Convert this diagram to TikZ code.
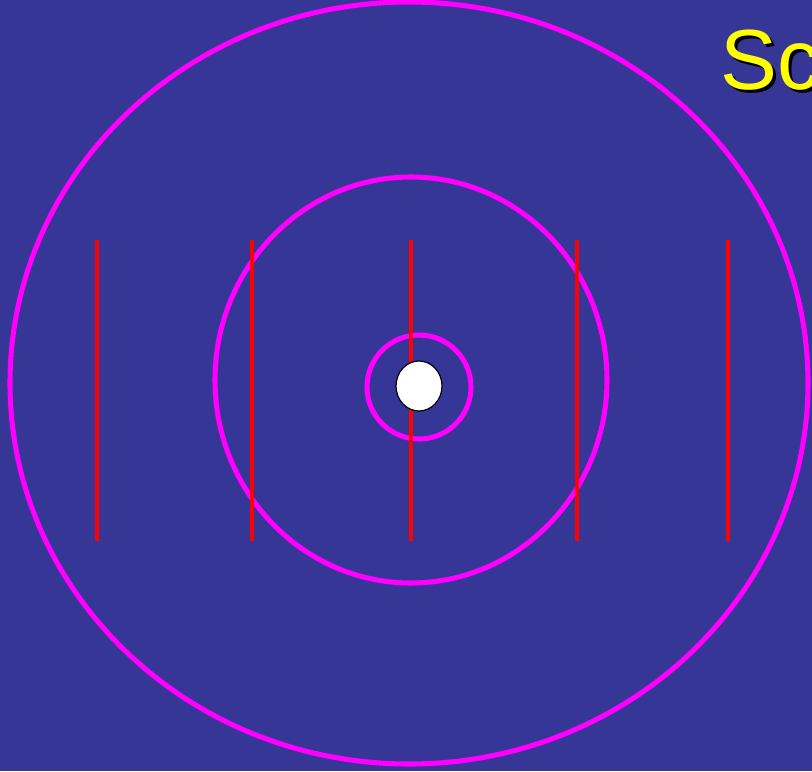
\documentclass[tikz,border=0pt]{standalone}
\usepackage{fontspec}
\setsansfont{Liberation Sans}
\usetikzlibrary{shapes.geometric}
\definecolor{bgblue}{RGB}{54,54,150}
\definecolor{ringpink}{RGB}{255,0,255}
\definecolor{linered}{RGB}{255,0,0}
\definecolor{titleyellow}{RGB}{255,255,0}
\begin{document}
\begin{tikzpicture}[x=0.75pt,y=-0.75pt]
			\fill[bgblue] (0,0) rectangle (812,771);
			\useasboundingbox (0,0) rectangle (812,771);
			\clip (0,0) rectangle (812,771);
			\draw[ringpink,line width=3.8pt] (409,383) ellipse [x radius=399, y radius=381];
			\draw[ringpink,line width=3.8pt] (411,380) ellipse [x radius=196, y radius=203];
			\draw[ringpink,line width=3.8pt] (419,387) circle [radius=52];
			\foreach \x in {97,252,411,577,728}
				\draw[linered,line width=3.3pt] (\x,240) -- (\x,541);
			\node[draw=black,fill=white,ellipse,line width=0.9pt,minimum width=34.5pt,minimum height=37.5pt,inner sep=0pt] (core) at (419,386) {};
			\node[anchor=base west,inner sep=0pt,text=black] at (723,92) {\sffamily\fontsize{64}{70}\selectfont Sc};
			\node[anchor=base west,inner sep=0pt,text=titleyellow] (title) at (720,89) {\sffamily\fontsize{64}{70}\selectfont Sc};
		\end{tikzpicture}
\end{document}
